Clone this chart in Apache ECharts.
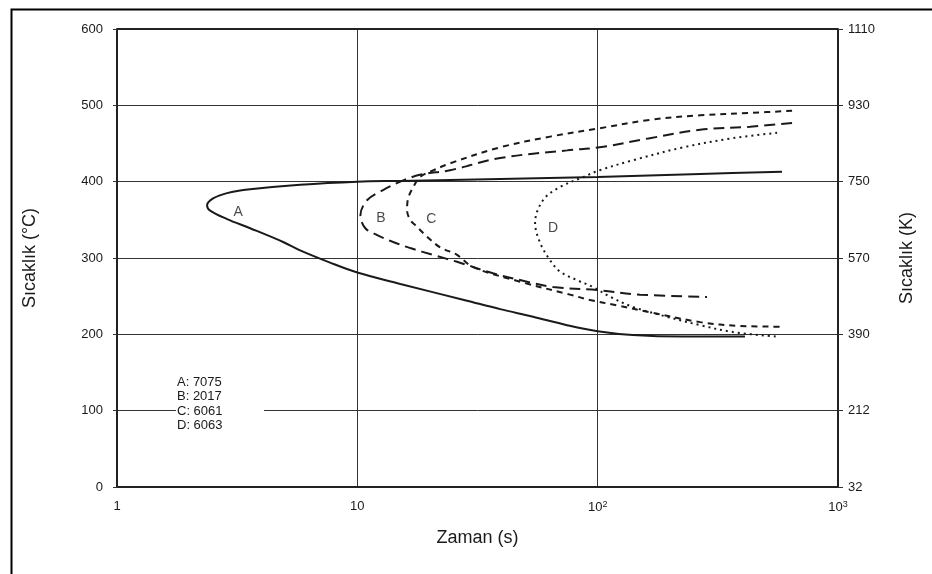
<!DOCTYPE html>
<html>
<head>
<meta charset="utf-8">
<script src="https://cdn.jsdelivr.net/npm/echarts@6/dist/echarts.min.js"></script>
<style>
  html, body { margin: 0; padding: 0; background: #fff; }
  #chart { width: 932px; height: 574px; }
</style>
</head>
<body>
<div id="chart"></div>
<script>
// TTT curves of aluminium alloys: time (s, log scale) vs temperature (°C)
const curveA = [
  [585, 413], [267, 410], [100, 406], [39.3, 403.5], [15.1, 401], [10, 400],
  [5.78, 396], [3.58, 390], [2.87, 385], [2.51, 378], [2.37, 369],
  [2.44, 362], [2.87, 351], [3.58, 339], [4.91, 321], [5.78, 310], [7.7, 294],
  [10, 281], [15.1, 266], [28.6, 244], [39.3, 233], [53.8, 223], [74.6, 212],
  [100, 204], [140, 199], [227, 197], [410, 197]
];
const curveB = [
  [644, 477], [431, 472], [267, 468], [165, 457], [102, 445], [74.6, 441],
  [39.3, 431], [24.3, 415], [18.2, 409], [15.1, 400], [12.8, 389], [11.0, 376],
  [10.3, 356], [10.8, 339], [12.1, 330], [14.1, 321], [16.6, 313], [20.7, 304],
  [26.0, 295], [36.7, 280], [50.8, 269], [65.2, 262], [99.5, 258], [150, 252],
  [285, 249]
];
const curveC = [
  [644, 493], [431, 490], [267, 487], [165, 481], [102, 470], [63.4, 459],
  [39.3, 445], [24.3, 424], [20.1, 413], [18.2, 406], [17.1, 393], [16.3, 379],
  [16.1, 363], [16.6, 350], [17.7, 341], [19.5, 328], [22.1, 314], [26.0, 304],
  [30.3, 288], [47.5, 269], [76.7, 252], [93, 245], [120, 238], [165, 229],
  [267, 216], [392, 211], [591, 210]
];
const curveD = [
  [558, 464], [366, 457], [227, 445], [140, 428], [102, 415], [87, 406],
  [69.8, 393], [59.3, 376], [54.9, 346], [57.6, 320], [63.4, 297], [69.8, 282],
  [82.1, 271], [95.7, 262], [113, 249], [140, 236], [194, 223], [267, 212],
  [366, 203], [558, 197]
];

// Curve letters placed inside each nose
const curveLetters = ['A', 'B', 'C', 'D'];
const letterPositions = [[3.19, 360], [12.55, 352], [20.3, 351], [65.2, 339]];

// Key: letter and alloy designation
const alloyNames = ['7075', '2017', '6061', '6063'];

// Tick labels
const xTickLabels = { 1: '1', 10: '10', 100: '10{sup|2}', 1000: '10{sup|3}' };
const rightTickLabels = ['32', '212', '390', '570', '750', '930', '1110'];

const chart = echarts.init(document.getElementById('chart'));
const FONT = 'Liberation Sans, Arial, sans-serif';
const INK = '#1a1a1a';

function curveSeries(name, data, type) {
  return {
    name: name, type: 'line', data: data, symbol: 'none', smooth: 0.35,
    lineStyle: { color: INK, width: 2, type: type, cap: 'butt' },
    z: 3
  };
}

const keyLines = curveLetters.map((c, i) => ({
  type: 'text', left: 177, top: 376 + i * 14.3, z: 20,
  style: { text: c + ': ' + alloyNames[i], font: '13px ' + FONT, fill: INK }
}));

chart.setOption({
  animation: false,
  backgroundColor: '#fff',
  grid: { left: 117, right: 94, top: 29, bottom: 87, show: false },
  xAxis: {
    type: 'log', logBase: 10, min: 1, max: 1000,
    name: 'Zaman (s)', nameLocation: 'middle', nameGap: 42,
    nameTextStyle: { fontFamily: FONT, fontSize: 18, color: INK },
    axisLine: { show: true, lineStyle: { color: '#222', width: 2 } },
    axisTick: { show: false },
    minorTick: { show: false },
    splitLine: { show: true, lineStyle: { color: '#333', width: 1 } },
    axisLabel: {
      margin: 13, fontFamily: FONT, fontSize: 13, color: INK,
      formatter: v => xTickLabels[Math.round(v)] || '',
      rich: { sup: { fontSize: 9, verticalAlign: 'top', padding: [0, 0, 6, 0], color: INK, fontFamily: FONT } }
    }
  },
  yAxis: [
    {
      type: 'value', min: 0, max: 600, interval: 100, position: 'left',
      name: 'Sıcaklık (°C)', nameLocation: 'middle', nameGap: 78, nameRotate: 90,
      nameTextStyle: { fontFamily: FONT, fontSize: 18, color: INK },
      axisLine: { show: true, lineStyle: { color: '#222', width: 2 } },
      axisTick: { show: true, length: 4, lineStyle: { color: '#333' } },
      splitLine: { show: true, lineStyle: { color: '#333', width: 1 } },
      axisLabel: { margin: 14, fontFamily: FONT, fontSize: 13, color: INK }
    },
    {
      type: 'value', min: 0, max: 600, interval: 100, position: 'right',
      name: 'Sıcaklık (K)', nameLocation: 'middle', nameGap: 60, nameRotate: 90,
      nameTextStyle: { fontFamily: FONT, fontSize: 18, color: INK },
      axisLine: { show: true, lineStyle: { color: '#222', width: 2 } },
      axisTick: { show: true, length: 5, lineStyle: { color: '#333' } },
      splitLine: { show: false },
      axisLabel: {
        margin: 10, fontFamily: FONT, fontSize: 13, color: INK,
        formatter: v => rightTickLabels[Math.round(v / 100)]
      }
    }
  ],
  series: [
    curveSeries('7075', curveA, 'solid'),
    curveSeries('2017', curveB, [11, 6]),
    curveSeries('6061', curveC, [6, 5]),
    curveSeries('6063', curveD, [2, 4]),
    {
      type: 'scatter', symbolSize: 0, z: 4,
      data: letterPositions.map((p, i) => ({ value: p, name: curveLetters[i] })),
      label: {
        show: true, position: 'inside', formatter: '{b}',
        fontFamily: FONT, fontSize: 14, color: INK
      }
    },
    {
      // top border of the plot frame
      type: 'line', data: [[1, 600], [1000, 600]], symbol: 'none',
      lineStyle: { color: '#222', width: 2 }, z: 5, silent: true
    }
  ],
  graphic: [
    {
      type: 'rect', left: 9, top: 7, z: 0,
      shape: { width: 940, height: 580 },
      style: { fill: 'none', stroke: '#000', lineWidth: 2 }
    },
    {
      type: 'rect', left: 176, top: 372, z: 10,
      shape: { width: 88, height: 62 },
      style: { fill: '#fff' }
    }
  ].concat(keyLines)
});
</script>
</body>
</html>
